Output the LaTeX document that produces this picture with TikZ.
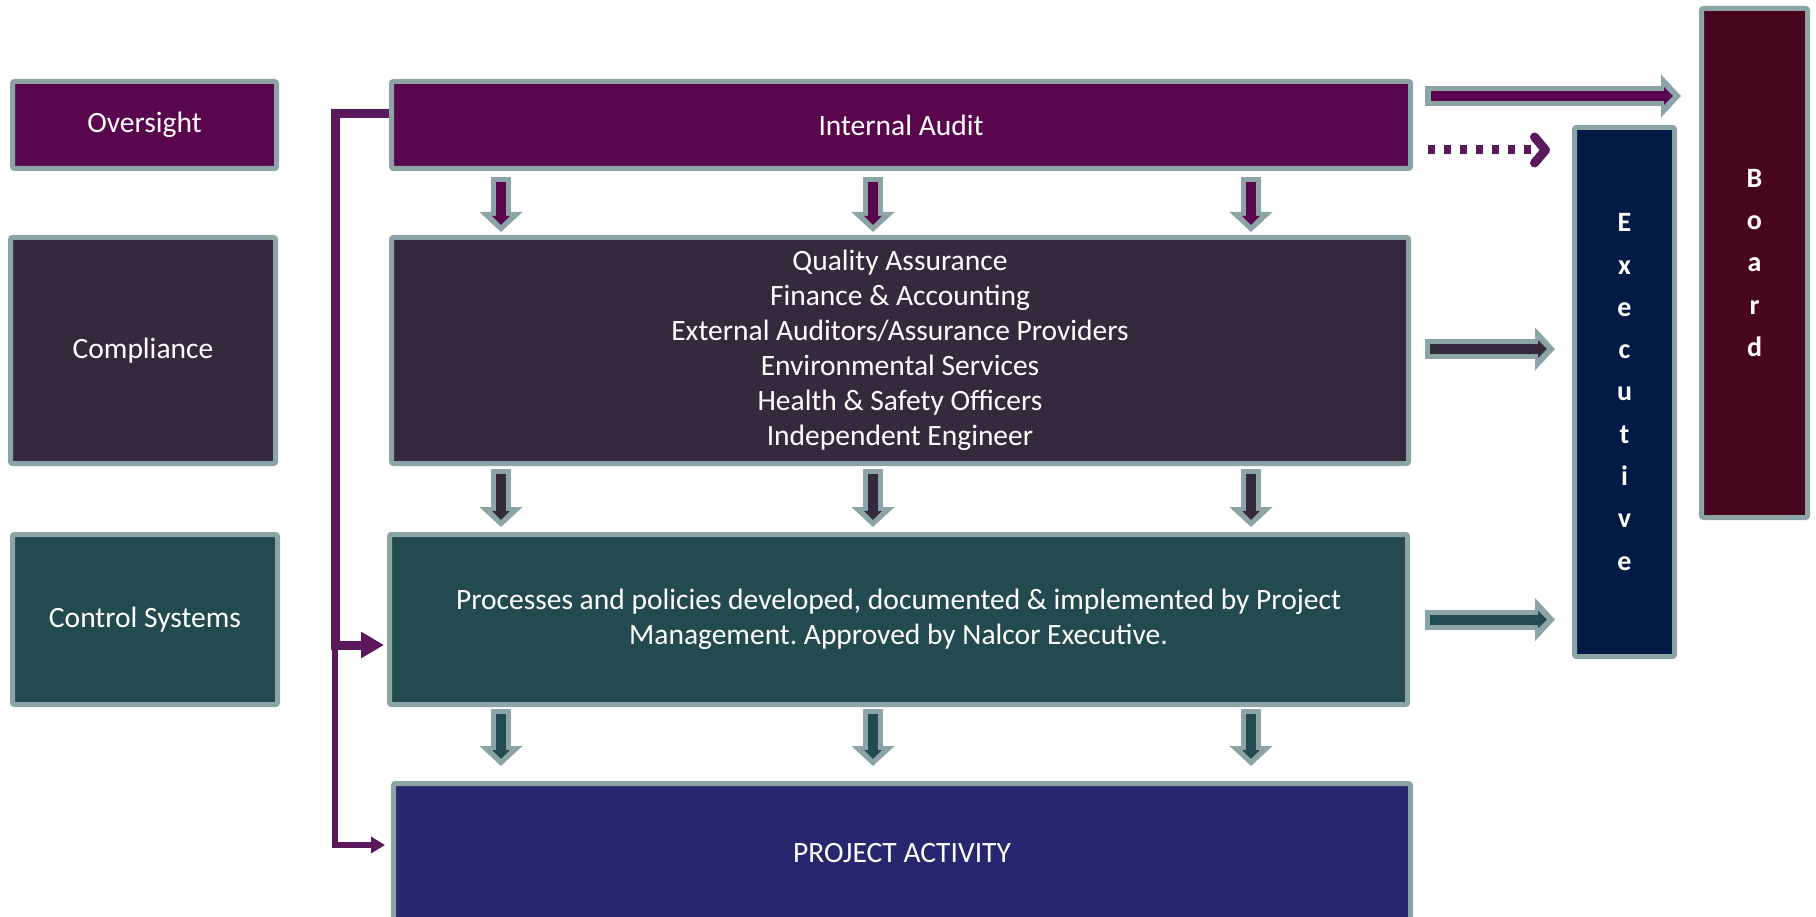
\documentclass[tikz,border=0pt]{standalone}
\usepackage{fontspec}
\setmainfont{Carlito}
\usetikzlibrary{arrows.meta}
\frenchspacing
\definecolor{rimgray}{HTML}{8CA4A6}
\definecolor{auditpurple}{HTML}{5A064E}
\definecolor{complydark}{HTML}{352A3C}
\definecolor{controlteal}{HTML}{234B4F}
\definecolor{projectblue}{HTML}{27266F}
\definecolor{execnavy}{HTML}{001A46}
\definecolor{boardred}{HTML}{47061E}
\definecolor{linkpurple}{HTML}{5B185D}
\tikzset{
  box/.style={draw=rimgray, line width=5pt, rounded corners=2pt, text=white,
    align=center, inner sep=0pt, font=\fontsize{29.5}{35}\selectfont},
  tallbox/.style={box, font=\bfseries\fontsize{28}{42.3}\selectfont},
  fatarrow/.style={draw=rimgray, line width=20pt, -{Triangle[width=42pt,length=20pt]}},
  thinarrow/.style={line width=10pt, -{Triangle[width=17pt,length=9pt]}},
  link/.style={draw=linkpurple, line width=9pt, -{Triangle[width=25pt,length=23pt]}},
  thinlink/.style={draw=linkpurple, line width=6pt, -{Triangle[width=16pt,length=14pt]}},
}

\begin{document}
\begin{tikzpicture}[x=1pt,y=-1pt]
\useasboundingbox (0,0) rectangle (1816,917);
% left column
\node[box, fill=auditpurple, minimum width=264, minimum height=87] (oversight) at (144.5,125) {Oversight};
\node[box, fill=complydark, minimum width=265, minimum height=226] (compliance) at (143,350.5) {Compliance};
\node[box, fill=controlteal, minimum width=265, minimum height=170] (control) at (145,619.5) {Control Systems};
% main column
\node[box, fill=auditpurple, minimum width=1019, minimum height=87] (ia) at (901,125) {Internal Audit};
\node[box, fill=complydark, minimum width=1017, minimum height=226] (qa) at (900,350.5)
  {Quality Assurance\\Finance \& Accounting\\External Auditors/Assurance Providers\\Environmental Services\\Health \& Safety Officers\\Independent Engineer};
\node[box, fill=controlteal, minimum width=1018, minimum height=170] (proc) at (898.5,619.5)
  {Processes and policies developed, documented \& implemented by Project\\Management. Approved by Nalcor Executive.};
\node[box, fill=projectblue, minimum width=1017, minimum height=140] (proj) at (902,853.5) {PROJECT ACTIVITY};
% right column
\node[tallbox, fill=execnavy, minimum width=100, minimum height=529] (exec) at (1624.5,392) {E\\x\\e\\c\\u\\t\\i\\v\\e};
\node[tallbox, fill=boardred, minimum width=106, minimum height=509] (board) at (1754.5,263) {B\\o\\a\\r\\d};

% down arrows
\foreach \up/\down/\ink/\ga/\gb in {ia/qa/auditpurple/6/3, qa/proc/complydark/3/5, proc/proj/controlteal/2/15}{
  \foreach \cx in {501,873,1251}{
    \draw[fatarrow, shorten <=\ga pt, shorten >=\gb pt] (\up.south -| \cx,0) -- (\down.north -| \cx,0);
    \draw[thinarrow, \ink, shorten <=\ga pt+5pt, shorten >=\gb pt+7pt] (\up.south -| \cx,0) -- (\down.north -| \cx,0);
  }
}

% arrows to the right
\draw[fatarrow, shorten <=12pt, shorten >=18pt] ([yshift=29pt]ia.east) -- ([yshift=29pt]ia.east -| board.west);
\draw[thinarrow, auditpurple, shorten <=18pt, shorten >=26pt] ([yshift=29pt]ia.east) -- ([yshift=29pt]ia.east -| board.west);
\draw[linkpurple, line width=9pt, dash pattern=on 7pt off 9pt, shorten <=15pt, shorten >=22pt,
  -{Straight Barb[length=11pt,width=26pt,round]}] ([yshift=-25pt]ia.east) -- ([yshift=-25pt]ia.east -| exec.west);
\draw[fatarrow, shorten <=14pt, shorten >=17pt] ([yshift=1.5pt]qa.east) -- ([yshift=1.5pt]qa.east -| exec.west);
\draw[thinarrow, complydark, shorten <=19pt, shorten >=25pt] ([yshift=1.5pt]qa.east) -- ([yshift=1.5pt]qa.east -| exec.west);
\draw[fatarrow, shorten <=15pt, shorten >=17pt] (proc.east) -- (proc.east -| exec.west);
\draw[thinarrow, controlteal, shorten <=20pt, shorten >=25pt] (proc.east) -- (proc.east -| exec.west);

% oversight link on the left
\coordinate (bend) at (335,0);
\draw[link, shorten >=3pt] ([yshift=11pt]ia.west) -| ([yshift=-25.5pt]proc.west -| bend) -- ([yshift=-25.5pt]proc.west);
\draw[thinlink, shorten >=6pt] ([yshift=-25.5pt]proc.west -| bend) |- ([yshift=-64pt]proj.north west);
\end{tikzpicture}
\end{document}
